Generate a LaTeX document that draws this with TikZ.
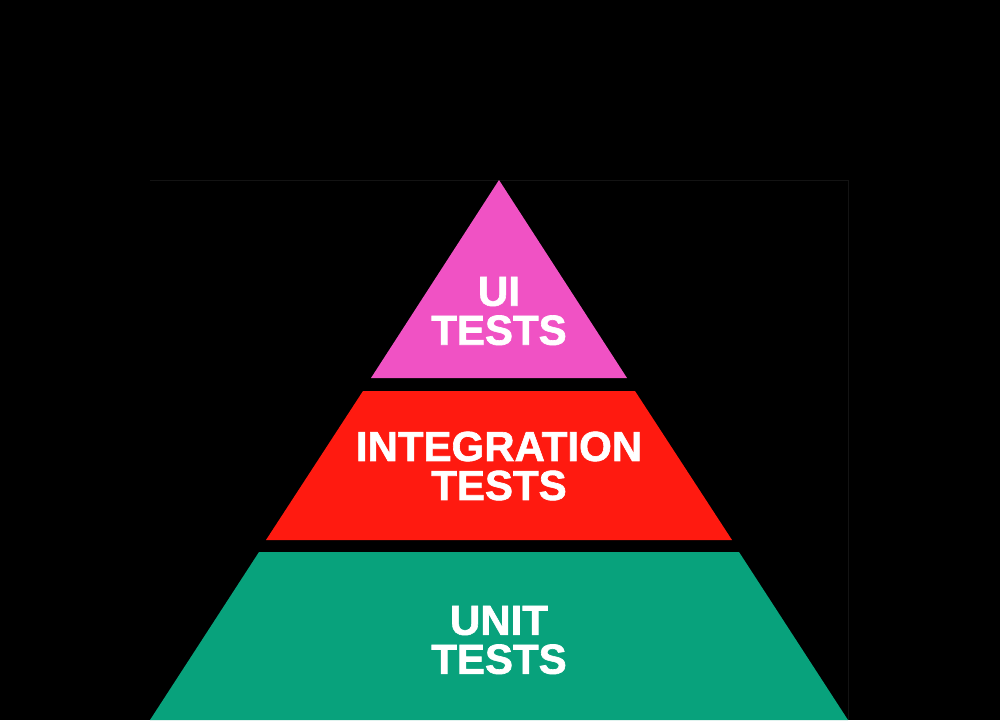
\documentclass[tikz,border=0pt]{standalone}
\usepackage{fontspec}
\setmainfont{Liberation Sans}[FakeBold=1.5]
\usepackage{tikz}
\usetikzlibrary{positioning}

\definecolor{uipink}{HTML}{F052C4}
\definecolor{intred}{HTML}{FF1A10}
\definecolor{unitgreen}{HTML}{08A27C}

\begin{document}
\begin{tikzpicture}[x=1pt, y=-1pt,
  layer/.style={font=\fontsize{42}{39}\bfseries\selectfont, text=white, align=center, inner sep=0pt},
]
  % --- Background ---
  \fill[black] (0,0) rectangle (1000,720);
  \useasboundingbox (0,0) rectangle (1000,720);
  \draw[gray!15!black, line width=1pt] (150,180) -- (848,180) -- (848,720);

  % --- Pyramid layers ---
  \fill[uipink]    (499,180) -- (627,378) -- (371,378) -- cycle;
  \fill[intred]    (363,391) -- (635,391) -- (732,540) -- (266,540) -- cycle;
  \fill[unitgreen] (259,552) -- (739,552) -- (848,720) -- (150,720) -- cycle;

  % --- Labels ---
  \node[layer] (ui)          at (499,311) {UI\\TESTS};
  \node[layer] (integration) at (499,466) {INTEGRATION\\TESTS};
  \node[layer] (unit)        at (499,640) {UNIT\\TESTS};
\end{tikzpicture}
\end{document}
